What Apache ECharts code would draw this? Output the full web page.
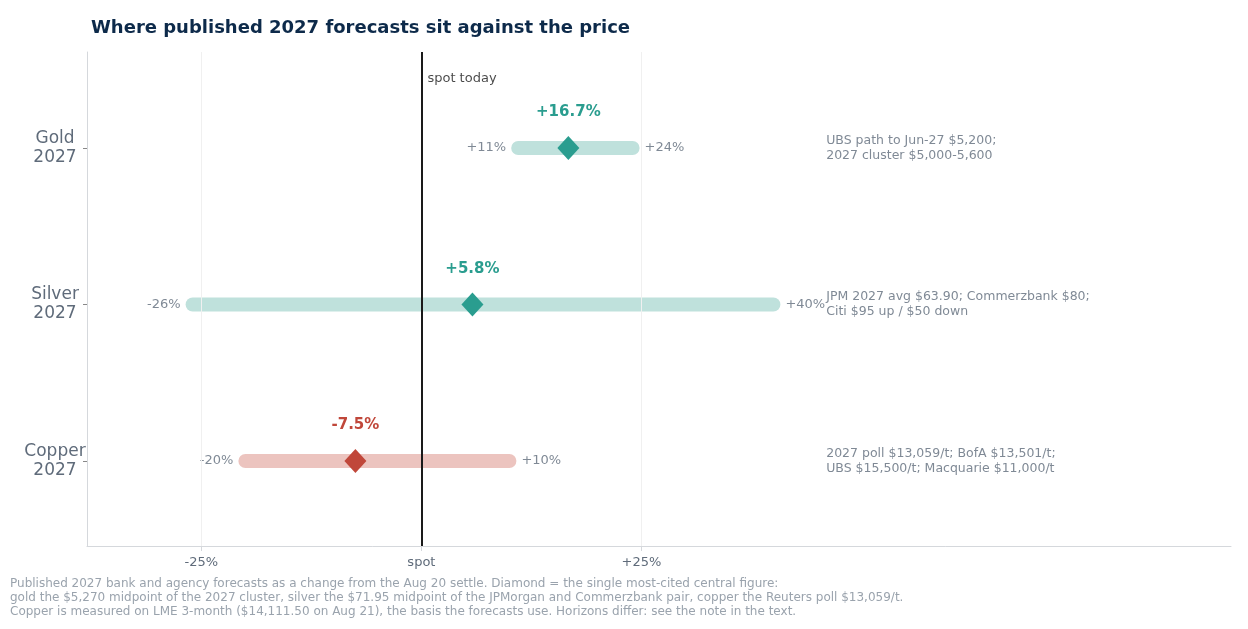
<!DOCTYPE html>
<html>
<head>
<meta charset="utf-8">
<title>2027 forecasts</title>
<script src="https://cdn.jsdelivr.net/npm/echarts@6/dist/echarts.min.js"></script>
</head>
<body style="margin:0">
<div id="main" style="width:1248px;height:629px;"></div>
<script>
// data
var metals = ['Copper\n2027', 'Silver\n2027', 'Gold\n2027'];
var lows = [-20, -26, 11];
var highs = [10, 40, 24];
var central = [-7.5, 5.8, 16.7];
var notes = [
  '2027 poll $13,059/t; BofA $13,501/t;\nUBS $15,500/t; Macquarie $11,000/t',
  'JPM 2027 avg $63.90; Commerzbank $80;\nCiti $95 up / $50 down',
  'UBS path to Jun-27 $5,200;\n2027 cluster $5,000-5,600'
];
var xTicks = [-25, 0, 25];
var xTickLabels = {'-25': '-25%', '0': 'spot', '25': '+25%'};

var teal = '#2a9d8f', red = '#c0473a';
var lightTeal = '#bfe1dc', lightRed = '#ecc4bf';
var grey = '#5f6b7a';
var font = 'DejaVu Sans';

function fmt(v) { return (v > 0 ? '+' : '') + v + '%'; }

var series = [];
for (var i = 0; i < metals.length; i++) {
  var up = central[i] >= 0;
  series.push({
    type: 'line', data: [[lows[i], i], [highs[i], i]], symbol: 'none', silent: true,
    lineStyle: { width: 14, cap: 'round', color: up ? lightTeal : lightRed }, z: 2
  });
  series.push({
    type: 'scatter', symbolSize: 0, silent: true,
    data: [
      { value: [lows[i], i], label: { show: true, position: 'left', distance: 12, formatter: fmt(lows[i]), color: grey, fontSize: 13 } },
      { value: [highs[i], i], label: { show: true, position: 'right', distance: 12, formatter: fmt(highs[i]), color: grey, fontSize: 13 } },
      { value: [46, i], label: { show: true, position: 'right', distance: 0, formatter: notes[i], color: grey, fontSize: 12.5, lineHeight: 15, align: 'left' } }
    ]
  });
  series.push({
    type: 'scatter', symbol: 'diamond', symbolSize: [22, 24], z: 5,
    itemStyle: { color: up ? teal : red, opacity: 1 },
    data: [[central[i], i]],
    label: { show: true, position: 'top', distance: 16, formatter: fmt(central[i]),
      color: up ? teal : red, fontWeight: 'bold', fontSize: 15 }
  });
}
series.push({
  type: 'scatter', symbolSize: 0, silent: true, data: [[0, 2.44]],
  label: { show: true, position: 'right', distance: 6, formatter: 'spot today', color: '#1a1a1a', fontSize: 13 },
  markLine: {
    silent: true, symbol: 'none', label: { show: false },
    data: [
      { xAxis: 0, lineStyle: { color: '#1a1a1a', width: 2, type: 'solid' } },
      { xAxis: -25, lineStyle: { color: '#f0f0f0', width: 1, type: 'solid' } },
      { xAxis: 25, lineStyle: { color: '#f0f0f0', width: 1, type: 'solid' } }
    ]
  }
});

var chart = echarts.init(document.getElementById('main'));
chart.setOption({
  animation: false,
  textStyle: { fontFamily: font },
  title: {
    text: 'Where published 2027 forecasts sit against the price',
    left: 86, top: 14,
    textStyle: { color: '#0d2a4a', fontSize: 18, fontWeight: 'bold', fontFamily: font }
  },
  grid: { left: 87, right: 17, top: 52, bottom: 83 },
  xAxis: {
    type: 'value', min: -38, max: 92,
    axisLine: { onZero: false, lineStyle: { color: '#d5d8dc' } },
    axisTick: { show: true, customValues: xTicks, lineStyle: { color: '#d5d8dc' } },
    splitLine: { show: false },
    axisLabel: { customValues: xTicks, color: grey, fontSize: 13, margin: 10,
      formatter: function (v) { return xTickLabels[String(v)]; } }
  },
  yAxis: {
    type: 'value', min: -0.543, max: 2.613,
    axisLine: { show: true, onZero: false, lineStyle: { color: '#d5d8dc' } },
    axisTick: { show: true, customValues: [0, 1, 2], length: 4, lineStyle: { color: '#888' } },
    splitLine: { show: false },
    axisLabel: { customValues: [0, 1, 2], color: grey, fontSize: 17, lineHeight: 19, align: 'center', margin: 32,
      formatter: function (v) { return metals[Math.round(v)]; } }
  },
  graphic: [{
    type: 'text', left: 10, top: 577,
    style: {
      text: 'Published 2027 bank and agency forecasts as a change from the Aug 20 settle. Diamond = the single most-cited central figure:\n' +
        'gold the $5,270 midpoint of the 2027 cluster, silver the $71.95 midpoint of the JPMorgan and Commerzbank pair, copper the Reuters poll $13,059/t.\n' +
        'Copper is measured on LME 3-month ($14,111.50 on Aug 21), the basis the forecasts use. Horizons differ: see the note in the text.',
      fill: '#9aa3ad', fontSize: 12, lineHeight: 14, fontFamily: font
    }
  }],
  series: series
});
</script>
</body>
</html>
